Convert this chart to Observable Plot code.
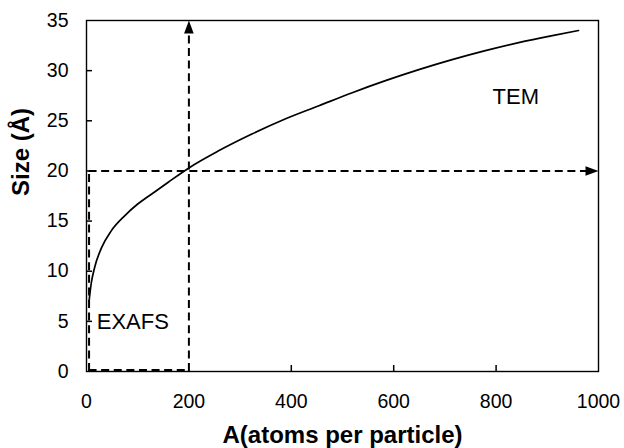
<!DOCTYPE html>
<html>
<head>
<meta charset="utf-8">
<script src="https://cdn.jsdelivr.net/npm/d3@7"></script>
<script src="https://cdn.jsdelivr.net/npm/@observablehq/plot@0.6"></script>
<style>
  html, body { margin: 0; padding: 0; background: #fff; }
  #chart svg { display: block; }
</style>
</head>
<body>
<div id="chart"></div>
<script>
// Particle size versus number of atoms per particle
const atoms = [5, 9, 16, 29, 48, 74, 100, 126, 159, 200, 258, 324, 389, 454, 519, 584, 649, 714, 779, 844, 910, 961];
const sizeA = [7.0, 8.7, 10.4, 12.3, 14.0, 15.5, 16.7, 17.65, 18.85, 20.3, 22.0, 23.7, 25.2, 26.5, 27.8, 29.0, 30.1, 31.1, 32.0, 32.8, 33.5, 34.0];

const xTicks = [0, 200, 400, 600, 800, 1000];
const yTicks = [0, 5, 10, 15, 20, 25, 30, 35];
const xInnerTicks = [400, 600, 800];
const yInnerTicks = [5, 10, 15, 20, 25, 30];

// Guide values: EXAFS lower limit, crossover at 200 atoms / 20 Å
const exafsAtoms = 5;
const crossAtoms = 200;
const crossSize = 20;
const xMax = 1000;
const yMax = 35;

const regionNames = ["EXAFS", "TEM"];
const regionAtoms = [20, 793];
const regionSize = [4.9, 27.4];

const curve = atoms.map((a, i) => ({a, s: sizeA[i]}));
const regions = regionNames.map((name, i) => ({name, a: regionAtoms[i], s: regionSize[i]}));

// filled arrow head, tip at the origin, pointing up
const arrowHead = {
  draw(ctx) {
    ctx.moveTo(0, 0);
    ctx.lineTo(4.8, 13);
    ctx.lineTo(-4.8, 13);
    ctx.closePath();
  }
};
const heads = [
  {a: crossAtoms, s: yMax, rot: 0},
  {a: xMax, s: crossSize, rot: 90}
];

const W = 624, H = 448;
const M = {left: 86, right: 26, top: 20, bottom: 77};
const innerW = W - M.left - M.right;
const innerH = H - M.top - M.bottom;
const tickLen = 6;

const dash = {stroke: "black", strokeWidth: 2, strokeDasharray: "8,4.6"};

const chart = Plot.plot({
  width: W,
  height: H,
  marginLeft: M.left,
  marginRight: M.right,
  marginTop: M.top,
  marginBottom: M.bottom,
  style: {fontFamily: "'Liberation Sans', Arial, sans-serif", fontSize: "19px", color: "black", background: "white"},
  x: {domain: [0, xMax]},
  y: {domain: [0, yMax]},
  marks: [
    // dashed guide lines
    Plot.ruleX([exafsAtoms], {y1: 0, y2: crossSize, ...dash}),
    Plot.ruleX([crossAtoms], {y1: 0, y2: yMax - 1.0, ...dash}),
    Plot.ruleY([crossSize], {x1: exafsAtoms, x2: xMax - 20, ...dash}),
    Plot.ruleY([0.15], {x1: exafsAtoms, x2: crossAtoms, ...dash}),
    Plot.dot(heads, {x: "a", y: "s", rotate: "rot", symbol: arrowHead, fill: "black", stroke: null}),
    // size curve
    Plot.line(curve, {x: "a", y: "s", curve: "monotone-x", stroke: "black", strokeWidth: 1.7}),
    // region labels
    Plot.text(regions, {x: "a", y: "s", text: "name", textAnchor: "start", lineAnchor: "middle", fontSize: 22, fill: "black"}),
    // axes: labels outside the frame, short ticks pointing inward
    Plot.axisY(yTicks, {tickSize: 0, tickPadding: 18, fontSize: 19.5, label: null}),
    Plot.axisX(xTicks, {tickSize: 0, tickPadding: 23, fontSize: 19.5, tickFormat: "d", label: null}),
    Plot.tickY(yInnerTicks, {y: d => d, insetRight: innerW - tickLen, stroke: "black", strokeWidth: 1.5}),
    Plot.tickX(xInnerTicks, {x: d => d, insetTop: innerH - tickLen, stroke: "black", strokeWidth: 1.5}),
    Plot.frame({stroke: "black", strokeWidth: 1.4}),
    // axis titles
    Plot.text(["A(atoms per particle)"], {frameAnchor: "bottom", dy: 64, lineAnchor: "middle", fontSize: 24, fontWeight: "bold", fill: "black"}),
    Plot.text(["Size (Å)"], {frameAnchor: "left", dx: -65, rotate: -90, lineAnchor: "middle", fontSize: 24, fontWeight: "bold", fill: "black"})
  ]
});

document.getElementById("chart").append(chart);
</script>
</body>
</html>
